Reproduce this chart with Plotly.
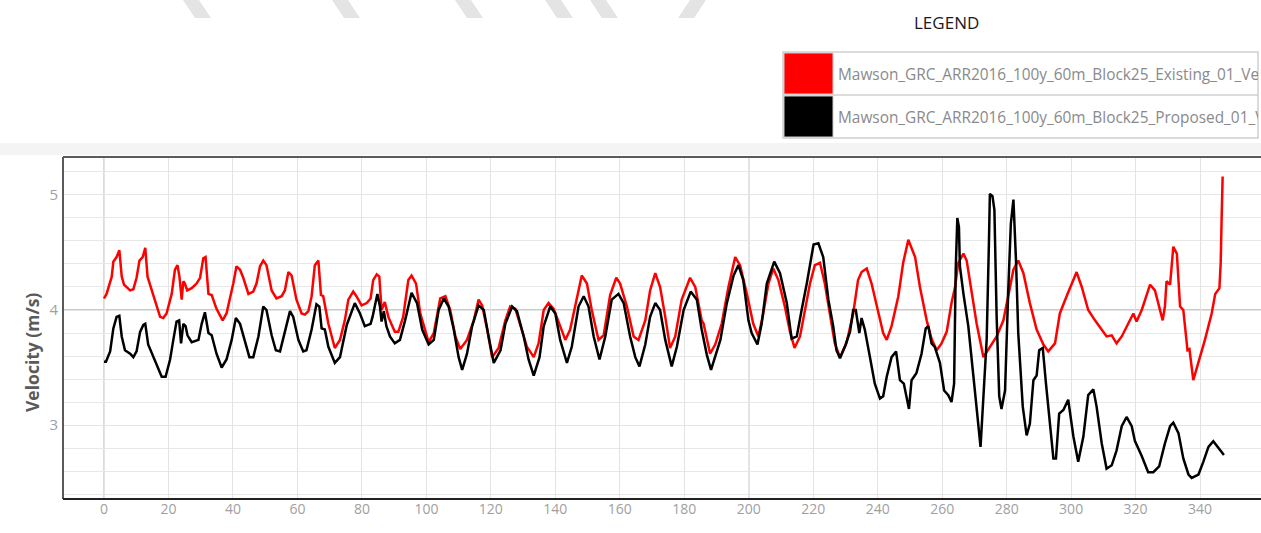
import plotly.graph_objects as go

# ---------------- data ----------------
existing_name = "Mawson_GRC_ARR2016_100y_60m_Block25_Existing_01_Velocity"
proposed_name = "Mawson_GRC_ARR2016_100y_60m_Block25_Proposed_01_Velocity"

existing_x = [
    0, 0.8, 2.4, 2.9, 3.9, 4.75, 5.5, 6.2, 8.1, 9.1,
    10.1, 11.0, 12.0, 12.8, 13.5, 15.3, 17.4, 18.4, 19.4, 21,
    22, 22.8, 23.4, 24.1, 24.6, 25.1, 25.8, 27.2, 28.7, 29.8,
    30.8, 31.5, 32.4, 33.4, 34.9, 36.8, 38, 40.1, 41.1, 42.2,
    43.2, 44.8, 46.3, 47.3, 48.4, 49.4, 50.4, 52, 53.5, 55.1,
    56.1, 57.2, 58.2, 59.7, 61.3, 62.3, 63.4, 64.4, 65.4, 66.5,
    67.3, 68, 69.6, 71.6, 73.2, 74.7, 75.8, 77.3, 78.3, 79.9,
    81.5, 82.7, 83.5, 84.6, 85.4, 86.1, 87.1, 88.2, 90.2, 91.3,
    92.8, 94.4, 95.4, 96.8, 98.1, 100.7, 102.3, 104.3, 105.9, 107.4,
    109, 110.5, 112.6, 114.7, 116.2, 117.3, 118.8, 120.4, 122.4, 124.5,
    126, 127.6, 129.1, 131.2, 133.3, 134.8, 136.4, 137.9, 139.5, 141.5,
    143.1, 144.6, 146.7, 148.2, 149.8, 151.3, 153.4, 155, 157, 158.9,
    160.1, 162.2, 164.3, 165.8, 167.9, 169.4, 171, 172.5, 174.1, 175.6,
    177.2, 179.2, 181.8, 183.4, 185.4, 186, 188, 189.6, 191.6, 193.7,
    195.8, 197.3, 199.4, 201.4, 203, 204.5, 206.1, 207.6, 209.2, 211.2,
    212.8, 214.2, 215.9, 217.4, 219, 220.5, 222.1, 223.6, 225.2, 226.7,
    228.3, 230.3, 232.4, 233.9, 235, 236.6, 238.1, 240.2, 241.7, 242.8,
    244.3, 246.4, 247.9, 249.5, 251.6, 253.1, 255.2, 256.7, 258.3, 259.8,
    261.4, 262.9, 264, 265, 266.6, 267.6, 269.1, 270.7, 272.8, 274.8,
    276.9, 279, 280.5, 282.1, 283.6, 285.2, 287.2, 289.3, 291.4, 292.9,
    295, 296.5, 298.6, 300.2, 301.7, 303.3, 305.3, 307.4, 309.5, 311,
    312.6, 314.1, 315.7, 317.8, 319.3, 320.3, 321.9, 324.5, 326, 328.4,
    329.1, 329.6, 330.7, 331.7, 332.8, 333.8, 334.8, 336.1, 336.7, 337.9,
    339.5, 341.5, 343.6, 344.7, 346, 346.4, 346.7, 347.0,
]
existing_y = [
    4.10, 4.14, 4.29, 4.42, 4.46, 4.52, 4.29, 4.22, 4.17, 4.18,
    4.28, 4.43, 4.46, 4.54, 4.29, 4.12, 3.94, 3.93, 3.97, 4.14,
    4.35, 4.39, 4.29, 4.09, 4.25, 4.23, 4.17, 4.19, 4.23, 4.28,
    4.45, 4.46, 4.14, 4.13, 4.01, 3.91, 3.97, 4.23, 4.38, 4.35,
    4.28, 4.14, 4.16, 4.23, 4.38, 4.43, 4.39, 4.17, 4.10, 4.12,
    4.17, 4.33, 4.30, 4.09, 3.97, 3.96, 3.99, 4.12, 4.39, 4.43,
    4.13, 4.12, 3.88, 3.67, 3.74, 3.91, 4.09, 4.16, 4.12, 4.04,
    4.06, 4.10, 4.26, 4.31, 4.29, 4.00, 4.07, 3.94, 3.81, 3.81,
    3.94, 4.26, 4.30, 4.23, 3.97, 3.72, 3.80, 4.10, 4.12, 4.00,
    3.77, 3.66, 3.74, 3.91, 4.09, 4.04, 3.84, 3.59, 3.67, 3.91,
    4.03, 4.01, 3.88, 3.68, 3.59, 3.71, 4.00, 4.06, 4.01, 3.86,
    3.74, 3.83, 4.12, 4.30, 4.23, 4.00, 3.74, 3.78, 4.13, 4.28,
    4.23, 4.03, 3.77, 3.74, 3.91, 4.17, 4.32, 4.20, 3.94, 3.67,
    3.77, 4.09, 4.28, 4.20, 3.91, 3.88, 3.62, 3.70, 3.88, 4.20,
    4.46, 4.39, 4.14, 3.88, 3.77, 3.97, 4.23, 4.36, 4.26, 4.03,
    3.81, 3.67, 3.77, 4.00, 4.23, 4.39, 4.41, 4.23, 3.94, 3.71,
    3.59, 3.71, 3.97, 4.26, 4.33, 4.36, 4.23, 3.97, 3.80, 3.74,
    3.86, 4.12, 4.41, 4.61, 4.46, 4.20, 3.91, 3.75, 3.65, 3.71,
    3.81, 4.06, 4.20, 4.41, 4.49, 4.43, 4.17, 3.88, 3.59, 3.68,
    3.77, 3.91, 4.14, 4.35, 4.43, 4.32, 4.06, 3.83, 3.70, 3.64,
    3.71, 3.97, 4.12, 4.23, 4.33, 4.20, 4.00, 3.91, 3.83, 3.77,
    3.78, 3.71, 3.77, 3.88, 3.97, 3.90, 4.00, 4.22, 4.17, 3.91,
    4.03, 4.25, 4.22, 4.55, 4.49, 4.03, 4.00, 3.65, 3.66, 3.39,
    3.54, 3.74, 3.97, 4.14, 4.19, 4.41, 4.81, 5.16,
]

proposed_x = [
    0, 0.6, 1.9, 2.9, 3.9, 4.75, 5.5, 6.5, 8.1, 9.1,
    10.1, 11.2, 12.2, 12.8, 13.7, 15.3, 16.8, 17.9, 19.1, 20.5,
    21.5, 22.5, 23.3, 23.9, 24.6, 25.3, 25.9, 27.2, 29.3, 30.3,
    31.3, 32.4, 33.4, 34.9, 36.5, 38, 39.6, 40.9, 42.2, 43.7,
    45.1, 46.3, 47.9, 49.4, 50.4, 52, 53.3, 54.6, 56.1, 57.7,
    58.7, 60.3, 61.8, 62.8, 64.4, 65.9, 66.8, 67.5, 68.5, 69.6,
    71.6, 73.2, 75.3, 77.8, 79.4, 80.9, 82.7, 83.3, 84.8, 85.6,
    86.1, 86.8, 87.6, 88.7, 90.2, 91.8, 93.4, 95.4, 97.1, 98.7,
    100.7, 102.3, 103.8, 105.4, 106.9, 108.5, 110, 111.1, 112.6, 114.2,
    116.2, 117.8, 119.3, 120.9, 123, 124.5, 126.6, 128.1, 130.2, 131.7,
    133.3, 135.1, 136.4, 138.4, 140, 141.5, 143.6, 145.1, 147.2, 148.8,
    150.3, 151.9, 153.7, 155.5, 157.5, 159.6, 161.2, 163.2, 164.8, 166.1,
    167.9, 169.4, 171, 172.5, 174.1, 176.1, 177.7, 179.8, 182, 183.9,
    185.4, 187, 188.3, 189.6, 191.2, 193.2, 195.3, 196.8, 198.3, 199.9,
    200.9, 202.7, 204, 205.6, 207.9, 209.7, 211.8, 213.3, 214.9, 216.4,
    218, 220.1, 221.6, 223.1, 224.7, 226.2, 227.2, 228.3, 229.8, 231.4,
    232.4, 233.2, 234.3, 235, 236, 237.6, 239.1, 240.7, 241.7, 242.8,
    244.3, 245.7, 246.9, 248.1, 249.7, 250.5, 252, 253.6, 254.9, 255.7,
    256.7, 257.7, 259.3, 260.6, 261.9, 262.9, 263.7, 264.2, 264.7, 265.2,
    265.5, 266.6, 268.1, 269.7, 271.2, 271.9, 272.8, 273.8, 274.5, 274.8,
    275.6, 276.2, 276.9, 277.7, 278.4, 279.5, 280.5, 281.3, 282.1, 282.9,
    283.6, 285, 286.2, 287.2, 288.3, 289.3, 290.1, 291.2, 292.2, 293.4,
    294.5, 295.3, 296.3, 297.6, 299.1, 300.7, 302.2, 303.8, 305.3, 306.9,
    307.9, 309.5, 311, 312.6, 314.1, 315.7, 317.2, 318.8, 319.8, 321.9,
    323.9, 325.5, 327.3, 329.1, 330.7, 331.7, 333.3, 334.8, 336.4, 337.4,
    339.5, 341, 342.6, 344.1, 345.7, 347.4,
]
proposed_y = [
    3.55, 3.55, 3.64, 3.84, 3.94, 3.95, 3.77, 3.65, 3.62, 3.59,
    3.64, 3.81, 3.87, 3.88, 3.70, 3.59, 3.48, 3.42, 3.42, 3.57,
    3.74, 3.90, 3.91, 3.71, 3.88, 3.86, 3.78, 3.72, 3.74, 3.88,
    3.98, 3.80, 3.78, 3.62, 3.50, 3.57, 3.74, 3.93, 3.88, 3.72,
    3.59, 3.59, 3.77, 4.03, 4.00, 3.78, 3.65, 3.64, 3.81, 3.99,
    3.94, 3.74, 3.64, 3.65, 3.83, 4.05, 4.03, 3.84, 3.83, 3.68,
    3.54, 3.59, 3.87, 4.06, 3.97, 3.86, 3.88, 3.94, 4.14, 4.03,
    3.90, 3.99, 3.86, 3.77, 3.71, 3.74, 3.91, 4.15, 4.06, 3.83,
    3.70, 3.74, 4.00, 4.10, 4.03, 3.83, 3.59, 3.48, 3.62, 3.86,
    4.04, 4.00, 3.77, 3.54, 3.65, 3.88, 4.03, 3.99, 3.77, 3.57,
    3.43, 3.59, 3.86, 4.03, 3.97, 3.74, 3.54, 3.68, 4.03, 4.12,
    4.03, 3.77, 3.57, 3.77, 4.09, 4.14, 4.06, 3.77, 3.59, 3.51,
    3.70, 3.94, 4.06, 4.00, 3.74, 3.51, 3.68, 4.00, 4.16, 4.09,
    3.83, 3.61, 3.48, 3.59, 3.74, 4.06, 4.30, 4.39, 4.26, 3.91,
    3.80, 3.70, 3.88, 4.23, 4.42, 4.32, 4.06, 3.75, 3.77, 4.00,
    4.23, 4.57, 4.58, 4.46, 4.09, 3.86, 3.65, 3.58, 3.68, 3.81,
    4.00, 4.00, 3.80, 3.93, 3.83, 3.59, 3.36, 3.23, 3.25, 3.42,
    3.59, 3.64, 3.39, 3.36, 3.14, 3.39, 3.45, 3.62, 3.84, 3.86,
    3.71, 3.68, 3.54, 3.30, 3.26, 3.20, 3.36, 4.35, 4.80, 4.72,
    4.38, 4.14, 3.86, 3.42, 3.01, 2.81, 3.25, 3.74, 4.58, 5.01,
    4.99, 4.87, 3.94, 3.25, 3.14, 3.30, 4.17, 4.75, 4.96, 4.43,
    3.80, 3.16, 2.91, 3.01, 3.39, 3.43, 3.65, 3.67, 3.36, 3.01,
    2.71, 2.71, 3.10, 3.13, 3.22, 2.90, 2.68, 2.90, 3.26, 3.31,
    3.16, 2.84, 2.62, 2.65, 2.78, 2.99, 3.07, 2.99, 2.86, 2.73,
    2.59, 2.59, 2.64, 2.84, 2.99, 3.02, 2.93, 2.71, 2.57, 2.54,
    2.57, 2.68, 2.81, 2.86, 2.80, 2.74,
]

x_ticks = list(range(0, 341, 20))
y_title = "Velocity (m/s)"
legend_title = "LEGEND"

# ---------------- layout geometry (pixels) ----------------
W, H = 1261, 533
L, T, B = 63, 157, 34
PW = W - L
PH = H - T - B


def px(xp):
    return (xp - L) / PW


def py(yp):
    return (H - B - yp) / PH


FONT = "Open Sans, DejaVu Sans, sans-serif"

fig = go.Figure()
n1 = min(len(existing_x), len(existing_y))
n2 = min(len(proposed_x), len(proposed_y))
fig.add_trace(go.Scatter(x=existing_x[:n1], y=existing_y[:n1], mode="lines",
                         name=existing_name, line=dict(color="#ff0000", width=2.5)))
fig.add_trace(go.Scatter(x=proposed_x[:n2], y=proposed_y[:n2], mode="lines",
                         name=proposed_name, line=dict(color="#000000", width=2.5)))

shapes = []
# faint watermark bars along the top edge
for x0, slope in [(183, 1), (332, 1), (455, 1), (545, 1), (590, 1), (690, -1)]:
    d = 12 * slope
    pts = [(x0, 0), (x0 + 16, 0), (x0 + 16 + d, 18), (x0 + d, 18)]
    path = "M " + " L ".join(f"{px(a):.5f},{py(b):.5f}" for a, b in pts) + " Z"
    shapes.append(dict(type="path", xref="paper", yref="paper", path=path,
                       fillcolor="#e4e4e4", line=dict(width=0), layer="below"))
# light band above plot
shapes.append(dict(type="rect", xref="paper", yref="paper", x0=px(0), x1=px(W),
                   y0=py(155), y1=py(143), fillcolor="#f4f4f4", line=dict(width=0), layer="below"))
# emphasised reference lines
shapes.append(dict(type="line", xref="x", yref="paper", x0=0, x1=0, y0=0, y1=1,
                   line=dict(color="#cfcfcf", width=1.5), layer="below"))
shapes.append(dict(type="line", xref="x", yref="paper", x0=200, x1=200, y0=0, y1=1,
                   line=dict(color="#a8a8a8", width=1.2), layer="below"))
shapes.append(dict(type="line", xref="paper", yref="y", x0=0, x1=1, y0=4, y1=4,
                   line=dict(color="#b8b8b8", width=1.5), layer="below"))
# frame
shapes.append(dict(type="line", xref="paper", yref="paper", x0=0, x1=1, y0=1, y1=1,
                   line=dict(color="#5a5a5a", width=2)))
shapes.append(dict(type="line", xref="paper", yref="paper", x0=0, x1=0, y0=0, y1=1,
                   line=dict(color="#5a5a5a", width=2)))
shapes.append(dict(type="line", xref="paper", yref="paper", x0=0, x1=1, y0=0, y1=0,
                   line=dict(color="#222222", width=2)))
# legend box
shapes.append(dict(type="rect", xref="paper", yref="paper", x0=px(783), x1=px(1258),
                   y0=py(138), y1=py(52), fillcolor="white", line=dict(color="#cfcfcf", width=1.5)))
shapes.append(dict(type="line", xref="paper", yref="paper", x0=px(783), x1=px(1258),
                   y0=py(95), y1=py(95), line=dict(color="#cfcfcf", width=1.5)))
shapes.append(dict(type="rect", xref="paper", yref="paper", x0=px(784), x1=px(833),
                   y0=py(94), y1=py(53), fillcolor="#ff0000", line=dict(color="#cccccc", width=1)))
shapes.append(dict(type="rect", xref="paper", yref="paper", x0=px(784), x1=px(833),
                   y0=py(137), y1=py(96), fillcolor="#000000", line=dict(color="#cccccc", width=1)))

annotations = [
    dict(text=legend_title, xref="paper", yref="paper", x=px(946), y=py(22),
         xanchor="center", yanchor="middle", showarrow=False,
         font=dict(family=FONT, size=17, color="#1a1a1a")),
    dict(text=existing_name, xref="paper", yref="paper", x=px(836), y=py(74),
         xanchor="left", yanchor="middle", align="left", width=420, showarrow=False,
         font=dict(family=FONT, size=15.4, color="#8a8a8a")),
    dict(text=proposed_name, xref="paper", yref="paper", x=px(836), y=py(117),
         xanchor="left", yanchor="middle", align="left", width=420, showarrow=False,
         font=dict(family=FONT, size=15.4, color="#8a8a8a")),
    dict(text="<b>" + y_title + "</b>", xref="paper", yref="paper", x=px(32), y=py(353),
         xanchor="center", yanchor="middle", textangle=-90, showarrow=False,
         font=dict(family=FONT, size=17.5, color="#5a5a5a")),
]

fig.update_layout(
    width=W, height=H,
    margin=dict(l=L, r=0, t=T, b=B, pad=0),
    paper_bgcolor="white", plot_bgcolor="white",
    showlegend=False,
    font=dict(family=FONT),
    shapes=shapes,
    annotations=annotations,
    xaxis=dict(range=[-12.72, 358.9], tickmode="array", tickvals=x_ticks,
               ticktext=[str(v) for v in x_ticks],
               showgrid=True, gridcolor="#e4e4e4", gridwidth=1,
               zeroline=False, showline=False, ticks="",
               tickfont=dict(family=FONT, size=14, color="#a0a0a0")),
    yaxis=dict(range=[2.357, 5.33], tickmode="linear", tick0=0, dtick=1,
               showgrid=True, gridcolor="#e4e4e4", gridwidth=1,
               minor=dict(dtick=0.2, tick0=0, showgrid=True, gridcolor="#e8e8e8", gridwidth=1),
               zeroline=False, showline=False, ticks="",
               ticklabelstandoff=4,
               tickfont=dict(family=FONT, size=15, color="#a0a0a0")),
)

fig.write_html("out.html", config={"displayModeBar": False},
               post_script="document.body.style.margin='0px';document.body.style.overflow='hidden';")
